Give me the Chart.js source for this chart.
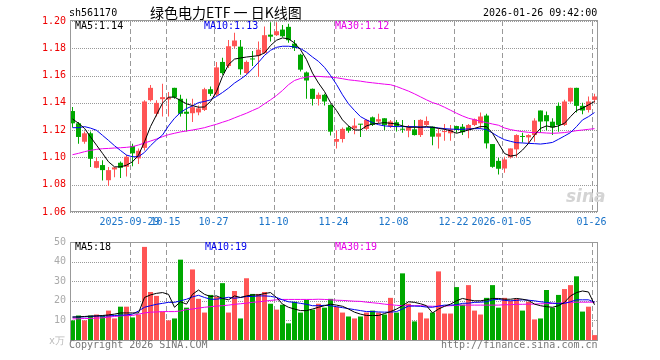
<!DOCTYPE html>
<html><head><meta charset="utf-8">
<script src="https://cdn.jsdelivr.net/npm/chart.js@4.4.1/dist/chart.umd.min.js"></script>
<style>
html,body{margin:0;padding:0;background:#fff;}
#wrap{position:relative;width:660px;height:360px;overflow:hidden;font-family:'DejaVu Sans Mono',monospace;font-size:10px;line-height:10px;}
.t{position:absolute;white-space:pre;}
canvas{position:absolute;left:0;}
</style></head><body>
<div id="wrap">
<canvas id="k" width="660" height="232" style="top:0px"></canvas>
<canvas id="v" width="660" height="128" style="top:232px"></canvas>
<div class="t" style="left:69px;top:8px;color:#000">sh561170</div>
<div class="t" style="left:150px;top:5px;font-family:'Noto Sans CJK SC';font-size:14px;line-height:14px;color:#000">绿色电力ETF 一 日K线图</div>
<div class="t" style="left:483px;top:8px;color:#000">2026-01-26 09:42:00</div>
<div class="t" style="left:75px;top:21px;color:#000">MA5:1.14</div>
<div class="t" style="left:204px;top:21px;color:#0000ee">MA10:1.13</div>
<div class="t" style="left:335px;top:21px;color:#e600e6">MA30:1.12</div>
<div class="t" style="left:75px;top:242px;color:#000">MA5:18</div>
<div class="t" style="left:205px;top:242px;color:#0000ee">MA10:19</div>
<div class="t" style="left:335px;top:242px;color:#e600e6">MA30:19</div>
<div class="t" style="left:49px;top:336px;color:#bbb">x万</div>
<div class="t" style="left:69px;top:340px;color:#777">Copyright 2026 SINA.COM</div>
<div class="t" style="left:441px;top:340px;color:#777">http://finance.sina.com.cn</div>
<div class="t" style="left:566px;top:188px;font-family:'DejaVu Sans';font-style:italic;font-weight:bold;font-size:17px;line-height:17px;color:#d4d4d4">sina</div>
</div>
<script>
// ---- data ----
const dates = ['2025-09-15','2025-09-16','2025-09-17','2025-09-18','2025-09-19','2025-09-22','2025-09-23','2025-09-24','2025-09-25','2025-09-26',
'2025-09-29','2025-09-30','2025-10-09','2025-10-10','2025-10-13','2025-10-14','2025-10-15','2025-10-16','2025-10-17','2025-10-20',
'2025-10-21','2025-10-22','2025-10-23','2025-10-24','2025-10-27','2025-10-28','2025-10-29','2025-10-30','2025-10-31','2025-11-03',
'2025-11-04','2025-11-05','2025-11-06','2025-11-07','2025-11-10','2025-11-11','2025-11-12','2025-11-13','2025-11-14','2025-11-17',
'2025-11-18','2025-11-19','2025-11-20','2025-11-21','2025-11-24','2025-11-25','2025-11-26','2025-11-27','2025-11-28','2025-12-01',
'2025-12-02','2025-12-03','2025-12-04','2025-12-05','2025-12-08','2025-12-09','2025-12-10','2025-12-11','2025-12-12','2025-12-15',
'2025-12-16','2025-12-17','2025-12-18','2025-12-19','2025-12-22','2025-12-23','2025-12-24','2025-12-25','2025-12-26','2025-12-29',
'2025-12-30','2025-12-31','2026-01-05','2026-01-06','2026-01-07','2026-01-08','2026-01-09','2026-01-12','2026-01-13','2026-01-14',
'2026-01-15','2026-01-16','2026-01-19','2026-01-20','2026-01-21','2026-01-22','2026-01-23','2026-01-26'];

const open = [1.134,1.125,1.1115,1.1177,1.0924,1.0944,1.0833,1.0912,1.0961,1.0931,
1.1084,1.0993,1.107,1.142,1.132,1.1427,1.1425,1.151,1.143,1.1335,
1.1324,1.133,1.1348,1.150,1.146,1.170,1.167,1.1815,1.1812,1.1619,
1.1725,1.1745,1.1766,1.190,1.1896,1.1937,1.1957,1.1834,1.1753,1.1623,
1.1503,1.1429,1.1459,1.1385,1.1115,1.1135,1.1220,1.1213,1.1243,1.1209,
1.1294,1.1263,1.1287,1.1226,1.1258,1.1208,1.1196,1.1206,1.1164,1.1238,
1.1226,1.1152,1.1186,1.1177,1.1230,1.1225,1.1201,1.1238,1.1250,1.1307,
1.1098,1.0975,1.0919,1.100,1.1059,1.1155,1.1147,1.1164,1.1344,1.131,
1.1262,1.1378,1.1238,1.141,1.151,1.1378,1.1348,1.1422];
const high = [1.137,1.126,1.119,1.119,1.100,1.098,1.093,1.093,1.097,1.102,
1.110,1.1066,1.142,1.153,1.142,1.154,1.148,1.151,1.146,1.143,
1.143,1.138,1.151,1.152,1.170,1.173,1.186,1.1913,1.186,1.171,
1.178,1.185,1.196,1.199,1.199,1.197,1.198,1.186,1.176,1.163,
1.1505,1.1476,1.1467,1.139,1.120,1.122,1.123,1.1287,1.1245,1.128,
1.130,1.132,1.1287,1.1275,1.1275,1.1275,1.1238,1.1275,1.128,1.130,
1.1226,1.1213,1.1245,1.1238,1.1232,1.1245,1.1245,1.1285,1.133,1.132,
1.1098,1.0997,1.1005,1.1066,1.117,1.118,1.117,1.1287,1.1344,1.1336,
1.1287,1.1402,1.1422,1.151,1.151,1.140,1.1447,1.1466];
const low = [1.122,1.110,1.110,1.093,1.092,1.083,1.079,1.0855,1.085,1.086,
1.0936,1.0951,1.105,1.141,1.130,1.130,1.130,1.143,1.130,1.119,
1.126,1.131,1.134,1.145,1.145,1.1606,1.1655,1.180,1.1606,1.161,
1.167,1.159,1.176,1.185,1.189,1.188,1.184,1.178,1.163,1.143,
1.138,1.138,1.138,1.116,1.1066,1.111,1.118,1.117,1.115,1.120,
1.123,1.125,1.120,1.1215,1.119,1.118,1.1147,1.116,1.115,1.123,
1.109,1.1066,1.1123,1.1123,1.118,1.1165,1.114,1.123,1.121,1.1066,
1.0925,1.0875,1.0887,1.0993,1.100,1.111,1.110,1.1115,1.118,1.120,
1.1164,1.1189,1.123,1.140,1.1329,1.1317,1.1329,1.140];
const close = [1.125,1.115,1.1177,1.099,1.0973,1.0907,1.0907,1.0927,1.0924,1.1005,
1.1030,1.1049,1.141,1.151,1.140,1.1442,1.1440,1.144,1.132,1.132,
1.1368,1.136,1.150,1.1466,1.166,1.1618,1.1815,1.1857,1.1646,1.170,
1.1718,1.179,1.1896,1.1885,1.1925,1.1888,1.1859,1.1802,1.1643,1.1564,
1.1429,1.1459,1.141,1.1189,1.1135,1.1209,1.1196,1.1233,1.1240,1.1275,
1.1238,1.1280,1.1238,1.1263,1.1230,1.1203,1.1221,1.1164,1.1275,1.1267,
1.1152,1.1177,1.1189,1.1206,1.1201,1.1185,1.1238,1.128,1.1300,1.1103,
1.0931,1.0917,1.0985,1.1066,1.1164,1.1150,1.1164,1.127,1.1263,1.1265,
1.122,1.1238,1.141,1.151,1.1378,1.1344,1.141,1.1447];

const ma5 = [1.1282,1.125,1.1213,1.115,1.109,1.103,1.0968,1.0931,1.0931,1.0943,
1.0968,1.1017,1.1115,1.1226,1.1312,1.1398,1.1442,1.1442,1.1417,1.1393,
1.138,1.1368,1.137,1.141,1.1483,1.1594,1.168,1.1721,1.1729,1.1736,
1.1741,1.1746,1.1766,1.182,1.1859,1.1876,1.1869,1.1839,1.179,1.1717,
1.1618,1.1545,1.1483,1.1402,1.1344,1.1275,1.1231,1.1201,1.1201,1.1231,
1.1245,1.125,1.1255,1.125,1.1245,1.1231,1.1221,1.1221,1.1221,1.1226,
1.1221,1.1213,1.1206,1.1196,1.1177,1.1189,1.1201,1.1213,1.1226,1.1226,
1.1177,1.1103,1.1029,1.101,1.1017,1.1054,1.1103,1.1164,1.1213,1.1231,
1.1221,1.1231,1.125,1.1299,1.1344,1.1361,1.1385,1.141];
const ma10 = [1.1218,1.1218,1.1226,1.1215,1.1199,1.1162,1.1125,1.1086,1.1051,1.1017,
1.1005,1.1005,1.1037,1.1086,1.1128,1.1164,1.1231,1.1287,1.1329,1.1358,
1.1378,1.1402,1.141,1.1422,1.1447,1.1476,1.1508,1.1545,1.1574,1.1606,
1.165,1.1697,1.1748,1.1785,1.1807,1.1815,1.1815,1.181,1.1798,1.1771,
1.1736,1.1704,1.166,1.1601,1.1535,1.1459,1.1393,1.1344,1.1299,1.1275,
1.1255,1.124,1.1231,1.1228,1.1226,1.1226,1.1226,1.1226,1.1223,1.1221,
1.1221,1.1216,1.1211,1.1208,1.1206,1.1206,1.1209,1.1211,1.1211,1.1204,
1.1179,1.1152,1.113,1.1118,1.1108,1.1106,1.1103,1.1101,1.1098,1.1103,
1.111,1.1133,1.1157,1.1182,1.1226,1.1275,1.1299,1.1329];
const ma30 = [1.102,1.103,1.1042,1.1052,1.1059,1.1064,1.1066,1.1069,1.1071,1.1074,
1.1079,1.1091,1.1106,1.112,1.1135,1.1152,1.1167,1.1177,1.1187,1.1194,
1.1201,1.1209,1.1218,1.1231,1.1243,1.1258,1.1272,1.129,1.1307,1.1324,
1.1344,1.1363,1.1393,1.1422,1.1454,1.1491,1.1533,1.1564,1.1579,1.1589,
1.1594,1.1594,1.1591,1.1589,1.1584,1.1577,1.1569,1.1564,1.1559,1.1552,
1.1547,1.1542,1.1537,1.1533,1.152,1.1503,1.1486,1.1466,1.1444,1.1422,
1.1402,1.1388,1.1368,1.1346,1.1324,1.1304,1.1287,1.1277,1.1265,1.1255,
1.1245,1.1236,1.1216,1.1204,1.1196,1.1189,1.1184,1.1182,1.1182,1.1179,
1.1177,1.1179,1.1182,1.1189,1.1196,1.1201,1.1206,1.1211];

const volume = [10,12.5,10,12.5,13,12.5,15,11,17,17,
11.5,13,47.5,24.5,22.5,14.5,10,11,41,16.5,
36,21,14,23,22,29,14,25,11,31.5,
23.5,23.5,24.5,18.5,15.5,18,8.5,19.5,14,20.5,
15.5,18.5,16.5,21,17,14,12,11,12,14,
15,14,13,21.5,14,34,18.5,9.5,14,11,
14,35,13.5,13.5,27,18,28,15,13,21.5,
28,16.5,21.5,20,21,15,19.5,10.5,11,25.5,
16.5,23,26,28,32.5,14.5,17,2.5];
const vma5 = [11.7,11.8,12,12.2,12.3,12.5,12.8,13.2,13.8,13.8,
13.8,13.8,21.7,23,23.8,24.2,23.3,16.7,19.5,18.3,
23.3,25.5,23.3,22.2,22.5,21.2,20.5,22.5,21.7,22.5,
23,23,23.7,24.2,21.7,18.3,16.7,15.8,15,15,
15.8,16.7,17.5,18.3,17.8,17.2,15.8,14.2,13.2,12.5,
12.5,12.5,13.5,14.5,15.8,17.5,19.5,19.2,18.5,17.5,
13.8,15.8,17.2,18.3,20,21.2,20.5,20,20,20.5,
21.2,21.2,20.8,20.8,21.2,20.8,20.2,18.3,17.5,17,
16.7,17.5,19.2,22.5,24.2,25,24.5,18];
const vma10 = [11.7,11.7,11.8,12,12.2,12.2,12.3,12.5,12.7,12.8,
13.2,14.8,16.7,17.5,18.2,18.7,19.2,19.2,20,20.8,
22,22.8,21.7,20.8,20.8,21.3,21.8,21.3,21.7,22.2,
22.2,22.5,22.5,22.3,21.7,20.5,19.5,19.2,18.7,18.2,
17.5,17.5,17.7,17.5,17,16.5,16,15.5,15,14.5,
14.5,14.3,14.2,14.2,14.5,15.8,17.3,17.3,17.2,16.8,
16.7,17.3,17.8,17.8,18,18.7,18.8,19.2,19.3,19.5,
20.5,20.7,20.2,20,20.2,20.5,20.3,20,19.5,19.2,
18.8,18.5,18.7,19.5,20.5,20.5,20.5,19.3];
const vma30 = [10.8,10.8,11,11,11.2,11.3,11.7,12,12.3,12.5,
12.5,13.2,13.8,14.2,14.3,14.5,14.5,14.5,14.8,15.5,
15.8,16.3,16.7,17,17.3,17.5,17.8,18.2,18.5,18.8,
19.2,19.5,19.8,20.2,20.5,20.7,20.7,20.7,20.7,20.7,
20.7,20.8,20.7,20.5,20.3,20.2,20,19.8,19.7,19.3,
19,18.7,18.3,18,17.7,17.5,17.5,17.5,17.5,17.3,
17.2,17.2,17.3,17.5,17.7,17.8,17.8,17.8,17.8,17.8,
17.8,17.8,18,18,18.2,18.2,18.3,18.3,18.5,18.5,
18.7,18.8,19,19.2,19.3,19.3,19.3,19.3];

const tickDates = ['2025-09-29','2025-10-15','2025-10-27','2025-11-10','2025-11-24','2025-12-08','2025-12-22','2026-01-05','2026-01-26'];
const tickLabels = ['2025-09-29','10-15','10-27','11-10','11-24','12-08','12-22','2026-01-05','01-26'];
const priceTicks = [1.06,1.08,1.10,1.12,1.14,1.16,1.18,1.20];
const volTicks = [0,10,20,30,40,50];

// ---- drawing ----
Chart.defaults.font.family = "'DejaVu Sans Mono', monospace";
Chart.defaults.font.size = 10;
const RED = '#ff5555', GREEN = '#00a800';
const N = dates.length;
const idx = dates.map((d, i) => i);
const colors = idx.map(i => close[i] >= open[i] ? RED : GREEN);
const gridIdx = tickDates.map(d => dates.indexOf(d));
const XMIN = -2.5 / 6, XMAX = XMIN + N;

// panel frame + dotted/dashed grid, positioned through the chart's own scales
const framePlugin = {
  id: 'frame',
  beforeDatasetsDraw(chart) {
    const ctx = chart.ctx, a = chart.chartArea;
    const xs = chart.scales.x, ys = chart.scales.y;
    ctx.save();
    ctx.strokeStyle = '#999999';
    ctx.lineWidth = 1;
    ctx.setLineDash([1, 1]);
    for (const t of ys.ticks) {
      const py = Math.round(ys.getPixelForValue(t.value) + 0.01) + 0.5;
      ctx.beginPath(); ctx.moveTo(a.left, py); ctx.lineTo(a.right, py); ctx.stroke();
    }
    ctx.setLineDash([5, 3]);
    for (const t of xs.ticks) {
      const px = Math.round(xs.getPixelForValue(t.value) + 0.01) + 0.5;
      ctx.beginPath(); ctx.moveTo(px, a.top); ctx.lineTo(px, a.bottom); ctx.stroke();
    }
    ctx.restore();
  },
  afterDraw(chart, args, opts) {
    const ctx = chart.ctx, a = chart.chartArea;
    const dy = (opts && opts.dy) || 0;
    ctx.save();
    ctx.setLineDash([]);
    ctx.strokeStyle = '#999999';
    ctx.lineWidth = 1;
    const l = Math.round(a.left), r = Math.round(a.right), t = Math.round(a.top), b = Math.round(a.bottom);
    ctx.strokeRect(l + 0.5, t - 0.5 + dy, r - l - 1, b - t);
    ctx.restore();
  }
};

function xScale(showLabels) {
  return {
    type: 'linear', min: XMIN, max: XMAX, offset: false,
    afterBuildTicks: s => { s.ticks = gridIdx.map(i => ({ value: i - 0.5 })); },
    afterFit: s => { s.height = 20; },
    grid: { display: false, drawTicks: false },
    border: { display: false },
    ticks: { display: showLabels, autoSkip: false, maxRotation: 0, minRotation: 0, padding: 4, color: '#1a73c8',
      callback: (v, i) => tickLabels[i] }
  };
}

const line = (data, color) => ({ type: 'line', data: idx.map(i => ({ x: i, y: data[i] })), borderColor: color,
  borderWidth: 1, pointRadius: 0, tension: 0, fill: false, order: 0 });

new Chart(document.getElementById('k'), {
  type: 'bar',
  data: { datasets: [
    line(ma5, '#000000'), line(ma10, '#0000ee'), line(ma30, '#ee00ee'),
    { type: 'bar', data: idx.map(i => ({ x: i, y: [open[i], close[i]] })), backgroundColor: colors,
      barThickness: 5, grouped: false, minBarLength: 1, inflateAmount: 0, borderWidth: 0, order: 1 },
    { type: 'bar', data: idx.map(i => ({ x: i, y: [low[i], high[i]] })), backgroundColor: colors,
      barThickness: 1, grouped: false, minBarLength: 1, inflateAmount: 0, borderWidth: 0, order: 2 }
  ] },
  options: {
    responsive: false, animation: false, devicePixelRatio: 1, events: [],
    layout: { padding: { left: 0, right: 62, top: 21, bottom: 0 } },
    plugins: { legend: { display: false }, tooltip: { enabled: false }, frame: { dy: 0 } },
    scales: {
      x: xScale(true),
      y: { type: 'linear', min: 1.06, max: 1.20,
        afterBuildTicks: s => { s.ticks = priceTicks.map(v => ({ value: v })); },
        afterFit: s => { s.width = 70; },
        grid: { display: false, drawTicks: false },
        border: { display: false },
        ticks: { color: '#ee0000', padding: 4, callback: v => v.toFixed(2) } }
    }
  },
  plugins: [framePlugin]
});

new Chart(document.getElementById('v'), {
  type: 'bar',
  data: { datasets: [
    line(vma5, '#000000'), line(vma10, '#0000ee'), line(vma30, '#ee00ee'),
    { type: 'bar', data: idx.map(i => ({ x: i, y: volume[i] })), backgroundColor: colors,
      barThickness: 5, grouped: false, inflateAmount: 0, borderWidth: 0, order: 1 }
  ] },
  options: {
    responsive: false, animation: false, devicePixelRatio: 1, events: [],
    layout: { padding: { left: 0, right: 62, top: 8, bottom: 0 } },
    plugins: { legend: { display: false }, tooltip: { enabled: false }, frame: { dy: 1 } },
    scales: {
      x: xScale(false),
      y: { type: 'linear', min: 0, max: 50,
        afterBuildTicks: s => { s.ticks = volTicks.map(v => ({ value: v })); },
        afterFit: s => { s.width = 70; },
        grid: { display: false, drawTicks: false },
        border: { display: false },
        ticks: { color: '#aaa', padding: 4, callback: v => v === 0 ? '' : String(v) } }
    }
  },
  plugins: [framePlugin]
});
</script>
</body></html>
